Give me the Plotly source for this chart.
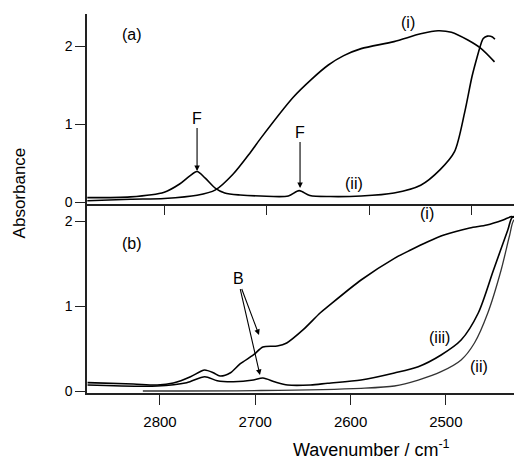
import plotly.graph_objects as go

# ---- panel (a) data ----
a_i_wn = [2875, 2833, 2800, 2768, 2750, 2733, 2716, 2706, 2674, 2657, 2640, 2625, 2608, 2576, 2550, 2533, 2520, 2504, 2491, 2478]
a_i_ab = [0.02, 0.04, 0.05, 0.09, 0.16, 0.36, 0.64, 0.82, 1.35, 1.57, 1.76, 1.88, 1.97, 2.06, 2.16, 2.20, 2.18, 2.08, 1.97, 1.80]

a_ii_wn = [2875, 2833, 2800, 2785, 2775, 2768, 2760, 2750, 2741, 2726, 2706, 2679, 2668.5, 2658, 2638, 2608, 2576, 2550, 2531, 2517, 2507, 2500, 2495, 2491, 2489, 2485, 2480, 2477.6]
a_ii_ab = [0.06, 0.07, 0.13, 0.235, 0.34, 0.395, 0.31, 0.18, 0.12, 0.094, 0.081, 0.081, 0.15, 0.087, 0.074, 0.081, 0.12, 0.22, 0.42, 0.65, 1.16, 1.61, 1.86, 2.04, 2.10, 2.13, 2.12, 2.09]

# ---- panel (b) data ----
b_i_wn = [2876, 2828, 2803, 2786, 2768, 2758, 2753, 2744, 2737, 2726, 2716, 2702, 2692, 2677, 2667, 2650, 2632, 2624, 2589, 2554, 2537, 2519, 2502, 2475, 2457, 2440, 2431, 2425, 2420]
b_i_ab = [0.098, 0.082, 0.071, 0.094, 0.168, 0.227, 0.247, 0.215, 0.176, 0.215, 0.318, 0.424, 0.518, 0.529, 0.565, 0.718, 0.918, 0.992, 1.306, 1.561, 1.659, 1.756, 1.835, 1.918, 1.953, 2.012, 2.051, 2.035, 2.035]

b_iii_wn = [2876, 2803, 2772, 2753, 2740, 2723, 2702, 2692, 2679, 2666, 2642, 2624, 2589, 2554, 2529, 2505, 2484, 2466, 2450, 2435, 2430, 2420]
b_iii_ab = [0.071, 0.059, 0.098, 0.168, 0.121, 0.109, 0.129, 0.153, 0.106, 0.071, 0.071, 0.091, 0.129, 0.212, 0.286, 0.424, 0.600, 0.918, 1.424, 1.894, 2.047, 2.035]

b_ii_wn = [2818, 2694, 2589, 2554, 2529, 2505, 2484, 2470, 2456, 2442, 2433, 2428.5, 2420]
b_ii_ab = [0.0, 0.006, 0.032, 0.059, 0.129, 0.227, 0.365, 0.565, 0.918, 1.424, 1.835, 2.012, 2.035]

x_ticks = [2800, 2700, 2600, 2500]
y_ticks = [0, 1, 2]

FONT = "Arial, Liberation Sans, Helvetica, sans-serif"
line = dict(color="black", width=1.6, shape="spline", smoothing=0.8)

fig = go.Figure()
fig.add_trace(go.Scatter(x=a_i_wn, y=a_i_ab, mode="lines", line=line, xaxis="x2", yaxis="y2"))
fig.add_trace(go.Scatter(x=a_ii_wn, y=a_ii_ab, mode="lines", line=line, xaxis="x2", yaxis="y2"))
fig.add_trace(go.Scatter(x=b_i_wn, y=b_i_ab, mode="lines", line=line, xaxis="x", yaxis="y"))
fig.add_trace(go.Scatter(x=b_iii_wn, y=b_iii_ab, mode="lines", line=line, xaxis="x", yaxis="y"))
fig.add_trace(go.Scatter(x=b_ii_wn, y=b_ii_ab, mode="lines", line=dict(color="#333", width=1.3, shape="spline", smoothing=0.8), xaxis="x", yaxis="y"))

axcommon = dict(showline=True, linecolor="#222", linewidth=1.5, ticks="outside", ticklen=10,
                tickwidth=1.2, tickcolor="#222", showgrid=False, zeroline=False)

# page body has an 8px default margin: figure is sized/offset to compensate
fig.update_layout(
    width=514, height=452,
    margin=dict(l=79, r=0, t=6, b=67),
    paper_bgcolor="white", plot_bgcolor="white",
    showlegend=False,
    font=dict(family=FONT, color="black"),
    xaxis=dict(range=[2876.6, 2420.1], domain=[0, 1], anchor="y", tickvals=x_ticks,
               tickfont=dict(size=15), ticklabelstandoff=4, **axcommon),
    yaxis=dict(range=[-0.0235, 2.206], domain=[0, 0.5], anchor="x", tickvals=y_ticks,
               tickfont=dict(size=14), **axcommon),
    xaxis2=dict(range=[2875.3, 2451.2], domain=[0, 1], anchor="y2", tickvals=x_ticks,
                showticklabels=False, **axcommon),
    yaxis2=dict(range=[-0.015, 2.414], domain=[0.5, 1], anchor="x2", tickvals=y_ticks,
                tickfont=dict(size=14), **axcommon),
)

ann = []
def txt(x, y, t, xr, yr, size=16):
    ann.append(dict(x=x, y=y, xref=xr, yref=yr, text=t, showarrow=False,
                    xanchor="center", yanchor="middle", font=dict(size=size)))

txt(2831.4, 2.145, "(a)", "x2", "y2")
txt(2562.3, 2.31, "(i)", "x2", "y2")
txt(2615.0, 0.247, "(ii)", "x2", "y2")
txt(2829.4, 1.74, "(b)", "x", "y")
txt(2519.8, 2.094, "(i)", "x", "y")
txt(2507.2, 0.624, "(iii)", "x", "y")
txt(2465.3, 0.294, "(ii)", "x", "y")

arrow = dict(showarrow=True, arrowhead=2, arrowsize=1, arrowwidth=1.1, arrowcolor="black",
             axref="pixel", ayref="pixel", font=dict(size=16))
ann.append(dict(x=2768, y=0.40, xref="x2", yref="y2", text="F", ax=0, ay=-53, **arrow))
ann.append(dict(x=2667.6, y=0.183, xref="x2", yref="y2", text="F", ax=0, ay=-56, **arrow))
ann.append(dict(x=2696.1, y=0.659, xref="x", yref="y", text="B", ax=-21, ay=-56, **arrow))
arrow2 = dict(arrow)
arrow2["font"] = dict(size=16, color="rgba(0,0,0,0)")
ann.append(dict(x=2695.1, y=0.188, xref="x", yref="y", text="B", ax=-22, ay=-96, **arrow2))

ann.append(dict(x=-0.156, y=0.527, xref="paper", yref="paper", text="Absorbance", textangle=-90,
                xanchor="center", yanchor="middle", showarrow=False, font=dict(size=17)))
ann.append(dict(x=0.655, y=-0.147, xref="paper", yref="paper", text="Wavenumber / cm<sup>-1</sup>",
                xanchor="center", yanchor="middle", showarrow=False, font=dict(size=18)))

fig.update_layout(annotations=ann)
fig.write_html("out.html")
